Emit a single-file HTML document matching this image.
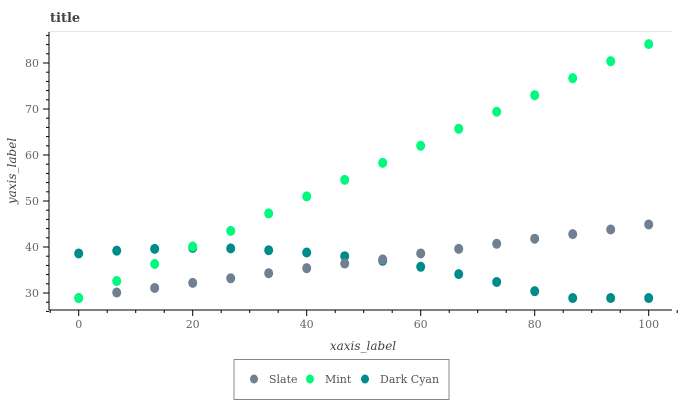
<!DOCTYPE html>
<html><head><meta charset="utf-8"><style>
body{margin:0;background:#fff;}
svg{display:block;font-family:"DejaVu Serif","Liberation Serif",serif;}
</style></head><body>
<svg width="682" height="400" viewBox="0 0 682 400">
<text x="50" y="22" font-size="13" font-weight="bold" fill="#444">title</text>
<line x1="49" y1="31.5" x2="672" y2="31.5" stroke="#e6e6e6"/>
<g id="axes"></g>
<g id="marks"></g>
<text x="363" y="350" font-size="12" font-style="italic" text-anchor="middle" fill="#444">xaxis_label</text>
<text transform="translate(16,171) rotate(-90)" font-size="12" font-style="italic" text-anchor="middle" fill="#444">yaxis_label</text>
<rect x="234" y="359.5" width="215" height="40" fill="none" stroke="#888"/>
<g id="legend"></g>
</svg>
<script>
const xs=[0,6.67,13.33,20,26.67,33.33,40,46.67,53.33,60,66.67,73.33,80,86.67,93.33,100];
const slate=[28.9,30.1,31.1,32.2,33.2,34.3,35.4,36.4,37.3,38.6,39.6,40.7,41.8,42.8,43.8,44.9];
const mint=[28.9,32.6,36.3,40.1,43.5,47.3,51.0,54.6,58.3,62.0,65.7,69.4,73.0,76.7,80.4,84.1];
const darkCyan=[38.6,39.2,39.6,39.8,39.7,39.3,38.8,38.0,37.0,35.7,34.1,32.4,30.4,28.9,28.9,28.9];
const xTicks=[0,20,40,60,80,100];
const yTicks=[30,40,50,60,70,80];
const legendNames=["Slate","Mint","Dark Cyan"];
const colors={"Slate":"#708090","Mint":"#00fa7f","Dark Cyan":"#008b8b"};
const X=v=>78.7+v*5.7, Y=v=>293-(v-30)*4.6;
const NS="http://www.w3.org/2000/svg";
function mk(tag,attrs,parent){const e=document.createElementNS(NS,tag);for(const k in attrs)e.setAttribute(k,attrs[k]);parent.appendChild(e);return e;}
const axes=document.getElementById('axes');
let l=mk('line',{x1:49,y1:310,x2:672,y2:310,stroke:'#000'},axes);


l=mk('line',{x1:49,y1:32,x2:49,y2:310,stroke:'#000'},axes);


for(let v=-5;v<=105;v+=5){const maj=v%20===0;const t=mk('line',{x1:X(v),y1:310,x2:X(v),y2:310+(maj?6:3),stroke:'#000'},axes);

}
for(let v=26;v<=86;v+=2){const maj=v%10===0;const t=mk('line',{x1:49,y1:Y(v),x2:49-(maj?6:3),y2:Y(v),stroke:'#000'},axes);

}
xTicks.forEach(v=>{const t=mk('text',{x:X(v),y:328,'font-size':11,'text-anchor':'middle',fill:'#666'},axes);t.textContent=v;

});
yTicks.forEach(v=>{const t=mk('text',{x:39,y:Y(v)+4,'font-size':11,'text-anchor':'end',fill:'#666'},axes);t.textContent=v;

});
const marks=document.getElementById('marks');
[["Dark Cyan",darkCyan],["Slate",slate],["Mint",mint]].forEach(([n,arr])=>{
 arr.forEach((v,i)=>{const c=mk('ellipse',{cx:X(xs[i]),cy:Y(v),rx:4.5,ry:5,fill:colors[n]},marks);
 
 });
});
const lg=document.getElementById('legend');
const lx=[254,310,365];
legendNames.forEach((n,i)=>{
 const c=mk('ellipse',{cx:lx[i],cy:379,rx:4,ry:4.5,fill:colors[n]},lg);
 
 
 const t=mk('text',{x:lx[i]+15,y:383,'font-size':11,fill:'#555'},lg);t.textContent=n;
 
 
});
</script>
</body></html>
